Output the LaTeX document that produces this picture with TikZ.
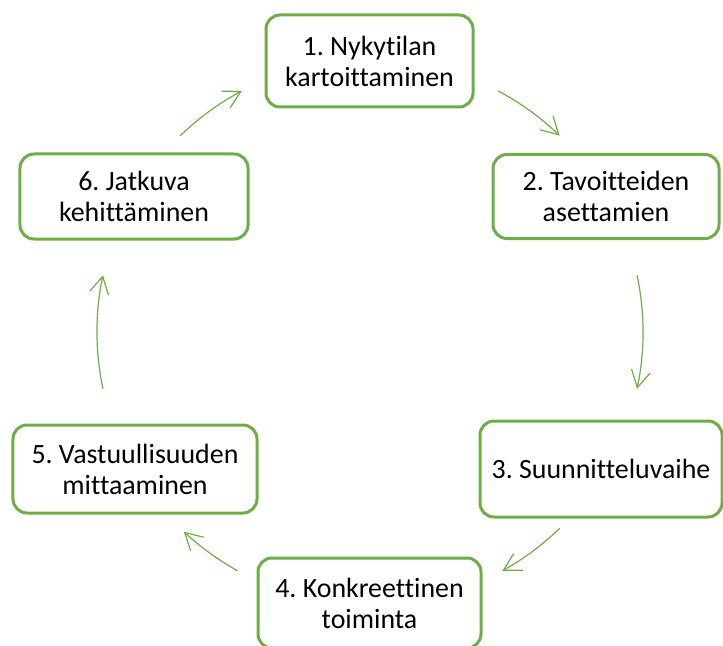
\documentclass[tikz,border=0pt]{standalone}
\usepackage{fontspec}
\setmainfont{Carlito}[Ligatures=NoCommon]
\usetikzlibrary{arrows.meta}
\definecolor{leaf}{RGB}{112,173,71}
\frenchspacing

\begin{document}
\begin{tikzpicture}[x=1bp,y=1bp,
	box/.style={draw=leaf, line width=3bp, rounded corners=14bp, align=center,
		font=\fontsize{28}{31}\selectfont, inner sep=0pt},
	cyc/.style={draw=leaf, line width=1.2bp, -{Straight Barb[length=17bp,width=19bp]}}]

	\useasboundingbox (0,0) rectangle (723,-646);

	% steps
	\node[box, minimum width=207bp, minimum height=92bp] (n1) at (369.5,-61) {1. Nykytilan\\kartoittaminen};
	\node[box, minimum width=226bp, minimum height=84bp] (n2) at (606,-196.5) {2. Tavoitteiden\\asettamien};
	\node[box, minimum width=242bp, minimum height=96bp] (n3) at (601,-469) {3. Suunnitteluvaihe};
	\node[box, minimum width=223bp, minimum height=90bp] (n4) at (369.5,-603) {4. Konkreettinen\\toiminta};
	\node[box, minimum width=244bp, minimum height=88bp] (n5) at (135,-469) {5. Vastuullisuuden\\mittaaminen};
	\node[box, minimum width=228bp, minimum height=85bp] (n6) at (134,-196.5) {6. Jatkuva\\kehittäminen};

	% cycle arrows
	\coordinate (c) at (370,-332);
	\foreach \a/\b in {62/46, 12/-12, -46/-61, -119/-133, -168/-192, 134/118}{
		\draw[cyc] (c) ++(\a:273bp) arc[start angle=\a, end angle=\b, radius=273bp];
	}

\end{tikzpicture}
\end{document}
